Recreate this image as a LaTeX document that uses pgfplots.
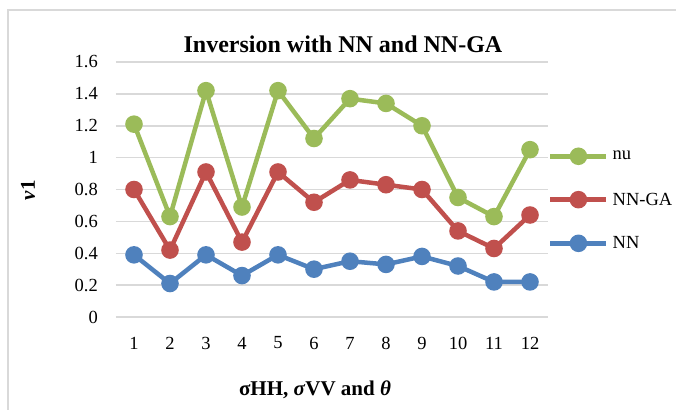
\documentclass[border=0pt]{standalone}
\usepackage{fontspec}
\setmainfont{Liberation Serif}
\usepackage{pgfplots}
\pgfplotsset{compat=1.18}
\definecolor{cgreen}{HTML}{9BBB59}
\definecolor{cred}{HTML}{C0504D}
\definecolor{cblue}{HTML}{4F81BD}
\definecolor{cgrid}{HTML}{D9D9D9}
\begin{document}
\begin{tikzpicture}[x=1bp,y=1bp]
\useasboundingbox (-116,-92) rectangle (560,317);
\fill[white] (-116,-92) rectangle (560,317);
\draw[cgrid, line width=1.5bp] (-108,-120) rectangle (600,307);
\begin{axis}[
  at={(0,0)}, anchor=south west,
  width=432bp, height=255bp, scale only axis,
  xmin=0.5, xmax=12.5, ymin=0, ymax=1.6,
  xtick={1,2,3,4,5,6,7,8,9,10,11,12},
  ytick={0,0.2,0.4,0.6,0.8,1,1.2,1.4,1.6},
  ymajorgrids, grid style={cgrid, line width=1.5bp},
  axis line style={draw=none},
  major tick length=0pt,
  tick label style={font=\fontsize{18.5bp}{20bp}\selectfont},
  /pgf/number format/assume math mode=true,
  yticklabel style={/pgf/number format/fixed, /pgf/number format/precision=1, inner sep=0pt, anchor=east, xshift=-18bp},
  xticklabel style={inner sep=0pt, anchor=center, yshift=-26bp},
  legend style={at={(1,0.459)}, anchor=west, draw=none, fill=none, inner sep=0pt,
    row sep=30bp, column sep=4bp, font=\fontsize{18.5bp}{20bp}\selectfont,
    nodes={inner sep=0pt}},
  legend cell align=left,
  legend image code/.code={
    \draw[mark repeat=2,mark phase=2,#1] plot coordinates {(0bp,0bp) (28bp,0bp) (56bp,0bp)};
  },
  clip=false,
]
\addplot[cgreen, line width=4.5bp, mark=*, mark size=6.5bp, mark options={fill=cgreen, draw=none}] coordinates {
(1,1.21) (2,0.63) (3,1.42) (4,0.69) (5,1.42) (6,1.12) (7,1.37) (8,1.34) (9,1.20) (10,0.75) (11,0.63) (12,1.05)};
\addlegendentry{nu}
\addplot[cred, line width=4.5bp, mark=*, mark size=6.5bp, mark options={fill=cred, draw=none}] coordinates {
(1,0.80) (2,0.42) (3,0.91) (4,0.47) (5,0.91) (6,0.72) (7,0.86) (8,0.83) (9,0.80) (10,0.54) (11,0.43) (12,0.64)};
\addlegendentry{NN-GA}
\addplot[cblue, line width=4.5bp, mark=*, mark size=6.5bp, mark options={fill=cblue, draw=none}] coordinates {
(1,0.39) (2,0.21) (3,0.39) (4,0.26) (5,0.39) (6,0.30) (7,0.35) (8,0.33) (9,0.38) (10,0.32) (11,0.22) (12,0.22)};
\addlegendentry{NN}
\end{axis}
\node[font=\fontsize{24bp}{26bp}\selectfont\bfseries] at (227,273) {Inversion with NN and NN-GA};
\node[rotate=90, font=\fontsize{21bp}{23bp}\selectfont\bfseries] at (-88,127) {\textit{ν}1};
\node[font=\fontsize{21bp}{23bp}\selectfont\bfseries] at (199,-73) {σHH, \textit{σ}VV and \textit{θ}};
\end{tikzpicture}
\end{document}
